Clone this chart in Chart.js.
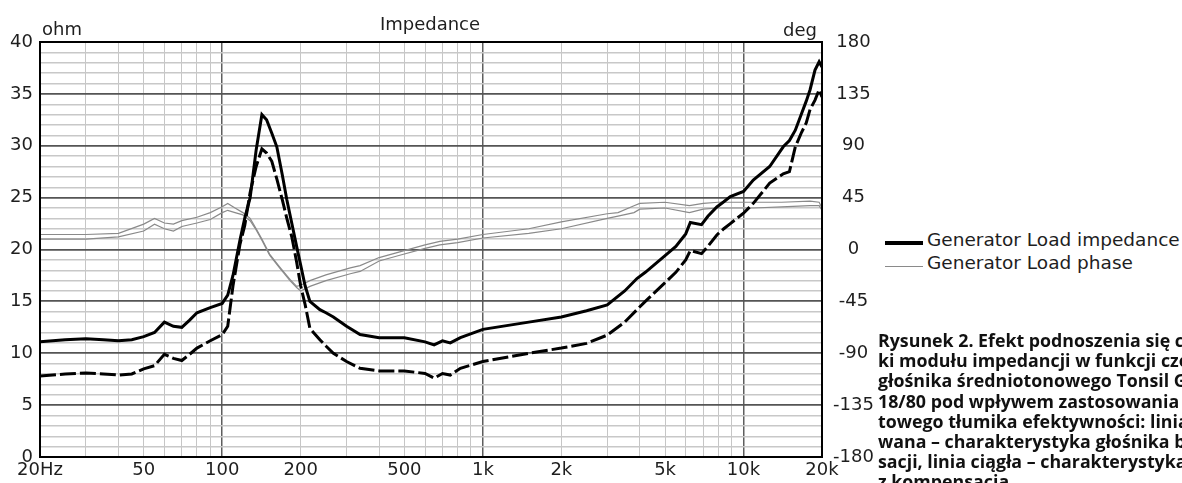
<!DOCTYPE html>
<html>
<head>
<meta charset="utf-8">
<script src="https://cdn.jsdelivr.net/npm/chart.js@4.4.0/dist/chart.umd.min.js"></script>
<style>
  html, body { margin: 0; padding: 0; background: #fff; }
  body { width: 1182px; height: 483px; position: relative; overflow: hidden; font-family: "DejaVu Sans", sans-serif; color: #1e1e1e; }
  #wrap { position: absolute; left: 0; top: 0; width: 880px; height: 483px; }
  .txt { position: absolute; font-size: 18px; line-height: 1; white-space: nowrap; }
  .key { position: absolute; left: 885px; width: 38px; }
  .keytxt { position: absolute; left: 927px; font-size: 18.5px; line-height: 1; white-space: nowrap; transform: translateY(-50%); }
  #caption { position: absolute; left: 878px; top: 330px; width: 420px; font-family: "Open Sans", sans-serif; font-weight: 700;
             font-size: 17.8px; line-height: 20.2px; color: #111; white-space: nowrap; }
</style>
</head>
<body>
<div id="wrap"><canvas id="impChart"></canvas></div>

<div class="txt" style="left:430px; top:24px; transform:translate(-50%,-50%);">Impedance</div>
<div class="txt" style="left:42px; top:29px; transform:translateY(-50%);">ohm</div>
<div class="txt" style="left:783px; top:30px; transform:translateY(-50%);">deg</div>

<div class="key" style="top:241px; border-top:4px solid #000;"></div>
<div class="keytxt" style="top:240px;">Generator Load impedance</div>
<div class="key" style="top:266px; border-top:1px solid #8a8a8a;"></div>
<div class="keytxt" style="top:263px;">Generator Load phase</div>

<div id="caption">
  Rysunek 2. Efekt podnoszenia się charakterysty-<br>
  ki modułu impedancji w funkcji częstotliwości<br>
  głośnika średniotonowego Tonsil GDM<br>
  18/80 pod wpływem zastosowania<br>
  towego tłumika efektywności: linia przery-<br>
  wana – charakterystyka głośnika bez kompen-<br>
  sacji, linia ciągła – charakterystyka<br>
  z kompensacją
</div>

<script>
const freqZ = [20, 25, 30, 35, 40, 45, 50, 55, 60, 65, 70, 75, 80, 90, 100, 105, 110, 117, 122, 128, 135, 142, 148, 155,
  162, 170, 177, 185, 193, 200, 208, 217, 237, 250, 267, 300, 338, 400, 500, 600, 650, 700, 750, 820, 1000, 1500,
  2000, 2500, 3000, 3500, 3900, 4200, 5000, 5500, 6000, 6250, 6900, 7300, 7900, 8400, 8900, 10000, 10900, 12600,
  14200, 15000, 15800, 16700, 17400, 18000, 18800, 19500, 20000];

// solid line - with compensation
const zWith = [11.1, 11.3, 11.4, 11.3, 11.2, 11.3, 11.6, 12.0, 13.0, 12.6, 12.5, 13.2, 13.9, 14.4, 14.8, 15.6, 17.5, 20.9,
  23.0, 25.0, 29.6, 33.0, 32.5, 31.2, 29.9, 27.2, 24.8, 22.5, 20.3, 18.5, 16.5, 15.0, 14.2, 13.9, 13.5, 12.6, 11.8,
  11.5, 11.5, 11.1, 10.8, 11.2, 11.0, 11.5, 12.3, 13.0, 13.5, 14.1, 14.65, 16.0, 17.2, 17.8, 19.4, 20.3, 21.5, 22.6,
  22.4, 23.2, 24.1, 24.6, 25.1, 25.6, 26.7, 28.0, 29.9, 30.5, 31.5, 33.1, 34.3, 35.4, 37.3, 38.1, 37.6];

// dashed line - without compensation
const zWithout = [7.8, 8.0, 8.1, 8.0, 7.9, 8.0, 8.5, 8.8, 9.9, 9.5, 9.3, 9.9, 10.5, 11.2, 11.8, 12.6, 16.5, 20.5,
  22.3, 25.5, 28.0, 29.7, 29.3, 28.5, 26.8, 24.8, 23.0, 21.2, 18.8, 16.5, 14.7, 12.4, 11.3, 10.7, 10.0, 9.2, 8.55,
  8.3, 8.3, 8.05, 7.6, 8.05, 7.9, 8.55, 9.2, 10.0, 10.5, 10.95, 11.75, 13.0, 14.2, 15.0, 16.8, 17.8, 19.0, 19.9,
  19.6, 20.3, 21.4, 22.0, 22.5, 23.5, 24.45, 26.4, 27.3, 27.5, 29.9, 31.3, 32.2, 33.5, 34.4, 35.4, 34.7];

const freqP = [20, 30, 40, 50, 55, 60, 65, 70, 80, 90, 100, 105, 112, 120, 128, 135, 142, 152, 166, 182, 193, 200,
  217, 250, 310, 338, 400, 480, 600, 684, 800, 1000, 1500, 2000, 3000, 3300, 3800, 4000, 5000, 6200, 7000, 8000,
  10000, 10900, 14000, 18000, 19500, 20000];

// phase, degrees
const phaseA = [13, 13, 14, 22, 27, 23, 22, 25, 28, 32, 37, 40, 36, 32, 27, 18, 9, -4, -15, -26, -32, -31,
  -27, -22, -16, -14, -7, -2, 4, 7, 9, 13, 18, 24, 31, 32, 38, 40, 41, 38, 40, 41,
  41, 41, 41, 42, 41, 36];
const phaseB = [9, 9, 11, 16, 22, 18, 16, 20, 23, 26, 32, 34, 32, 30, 25, 17, 8, -5, -16, -27, -33, -36,
  -32, -27, -21, -19, -10, -5, 1, 4, 6, 10, 14, 18, 27, 29, 32, 35, 36, 32, 35, 36,
  36, 36, 37, 38, 38, 34];

const freqTicks = [20, 30, 40, 50, 60, 70, 80, 90, 100, 200, 300, 400, 500, 600, 700, 800, 900,
  1000, 2000, 3000, 4000, 5000, 6000, 7000, 8000, 9000, 10000, 20000];
const freqLabels = { 20: '20Hz', 50: '50', 100: '100', 200: '200', 500: '500', 1000: '1k', 2000: '2k',
  5000: '5k', 10000: '10k', 20000: '20k' };
const ohmTicks = Array.from({ length: 41 }, (_, i) => i);
const degTicks = [-180, -135, -90, -45, 0, 45, 90, 135, 180];

const pts = (xs, ys) => xs.map((x, i) => ({ x: x, y: ys[i] }));
const tickFont = { family: 'DejaVu Sans', size: 18 };

const framePlugin = {
  id: 'frame',
  afterDraw(chart) {
    const { ctx, chartArea: a } = chart;
    ctx.save();
    ctx.strokeStyle = '#000';
    ctx.lineWidth = 2;
    ctx.strokeRect(a.left, a.top, a.right - a.left, a.bottom - a.top);
    ctx.restore();
  }
};

new Chart(document.getElementById('impChart'), {
  type: 'line',
  data: {
    datasets: [
      { label: 'Generator Load impedance', data: pts(freqZ, zWith), yAxisID: 'y',
        borderColor: '#000', borderWidth: 3, pointRadius: 0, tension: 0 },
      { label: 'Generator Load impedance (bez kompensacji)', data: pts(freqZ, zWithout), yAxisID: 'y',
        borderColor: '#000', borderWidth: 3, borderDash: [16, 4], pointRadius: 0, tension: 0 },
      { label: 'Generator Load phase', data: pts(freqP, phaseA), yAxisID: 'y1',
        borderColor: '#8a8a8a', borderWidth: 1.2, pointRadius: 0, tension: 0 },
      { label: 'Generator Load phase (2)', data: pts(freqP, phaseB), yAxisID: 'y1',
        borderColor: '#8a8a8a', borderWidth: 1.2, pointRadius: 0, tension: 0 }
    ]
  },
  options: {
    responsive: true,
    maintainAspectRatio: false,
    animation: false,
    layout: { padding: { top: 42, left: 0, right: 0, bottom: 0 } },
    plugins: { legend: { display: false }, tooltip: { enabled: false } },
    scales: {
      x: {
        type: 'logarithmic', min: 20, max: 20000,
        afterBuildTicks: s => { s.ticks = freqTicks.map(v => ({ value: v })); },
        afterFit: s => { s.height = 26; },
        ticks: { autoSkip: false, maxRotation: 0, padding: 3, color: '#1e1e1e', font: tickFont,
          callback: v => freqLabels[v] || '' },
        grid: { drawTicks: false,
          color: c => [100, 1000, 10000].includes(c.tick.value) ? '#5e5e5e' : '#c6c6c6',
          lineWidth: c => [100, 1000, 10000].includes(c.tick.value) ? 1.5 : 1 },
        border: { color: '#000', width: 2 }
      },
      y: {
        position: 'left', min: 0, max: 40,
        afterBuildTicks: s => { s.ticks = ohmTicks.map(v => ({ value: v })); },
        afterFit: s => { s.width = 40; },
        ticks: { autoSkip: false, padding: 7, color: '#1e1e1e', font: tickFont,
          callback: v => v % 5 === 0 ? String(v) : '' },
        grid: { drawTicks: false,
          color: c => c.tick.value % 5 === 0 ? '#555' : '#c8c8c8',
          lineWidth: c => c.tick.value % 5 === 0 ? 1.8 : 1.4 },
        border: { color: '#000', width: 2 }
      },
      y1: {
        position: 'right', min: -180, max: 180,
        afterBuildTicks: s => { s.ticks = degTicks.map(v => ({ value: v })); },
        afterFit: s => { s.width = 58; },
        ticks: { autoSkip: false, crossAlign: 'center', padding: 11, color: '#1e1e1e', font: tickFont },
        grid: { display: false, drawTicks: false },
        border: { color: '#000', width: 2 }
      }
    }
  },
  plugins: [framePlugin]
});
</script>
</body>
</html>
